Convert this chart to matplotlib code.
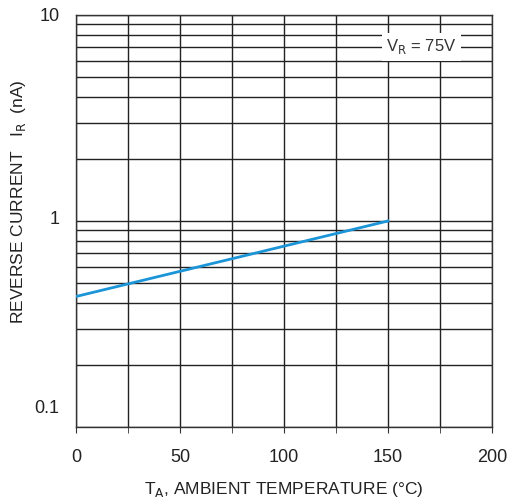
import matplotlib.pyplot as plt
import matplotlib.transforms as mtransforms
from matplotlib.ticker import LogLocator, NullFormatter

plt.rcParams['font.family'] = ['Liberation Sans', 'DejaVu Sans']

# reverse current vs ambient temperature at VR = 75V
temp = [0, 150]
ir_na = [0.43, 1.0]

x_ticks = [0, 50, 100, 150, 200]
x_grid = [25, 75, 125, 175]
y_ticks = [0.1, 1, 10]
y_tick_labels = ["0.1", "1", "10"]

fig = plt.figure(figsize=(5.15, 4.99), dpi=100)
ax = fig.add_axes([0.1476, 0.1443, 0.8077, 0.8257])

ax.set_yscale("log")
ax.set_xlim(0, 200)
ax.set_ylim(0.1, 10)

# grid
ax.set_xticks(x_ticks)
ax.set_xticks(x_grid, minor=True)
ax.yaxis.set_major_locator(LogLocator(base=10, numticks=10))
ax.yaxis.set_minor_locator(LogLocator(base=10, subs=range(2, 10), numticks=20))
ax.yaxis.set_minor_formatter(NullFormatter())
ax.set_yticks(y_ticks)
ax.set_yticklabels(y_tick_labels)
ax.grid(True, which="both", color="#222222", linewidth=1.0)
ax.set_axisbelow(True)

ax.plot(temp, ir_na, color="#1b95d8", linewidth=2.0, zorder=3)

ax.text(166, 7.0, r"V$_{\rm R}$ = 75V", fontsize=12, color="#333333",
        ha="center", va="center",
        bbox=dict(facecolor="white", edgecolor="none", pad=3), zorder=4)

for s in ax.spines.values():
    s.set_color("#333333")
    s.set_linewidth(1.0)

ax.tick_params(axis="x", which="both", direction="out", length=4, color="#333333",
               labelsize=13, pad=12, labelcolor="#222222")
ax.tick_params(axis="y", which="both", length=0, labelsize=13, pad=12,
               labelcolor="#222222")

# nudge the y labels up as in the original sheet
for lbl, dy in zip(ax.get_yticklabels(), [20, 3, 0]):
    lbl.set_transform(lbl.get_transform() + mtransforms.ScaledTranslation(0, dy / 100, fig.dpi_scale_trans))

ax.set_xlabel(r"T$_{\rm A}$, AMBIENT TEMPERATURE (°C)", fontsize=12.5, color="#222222")
ax.set_ylabel(r"REVERSE CURRENT   I$_{\rm R}$  (nA)", fontsize=12.5, color="#222222")
ax.xaxis.set_label_coords(0.5, -0.128)
ax.yaxis.set_label_coords(-0.115, 0.546)

fig.savefig("out.png", dpi=100)
